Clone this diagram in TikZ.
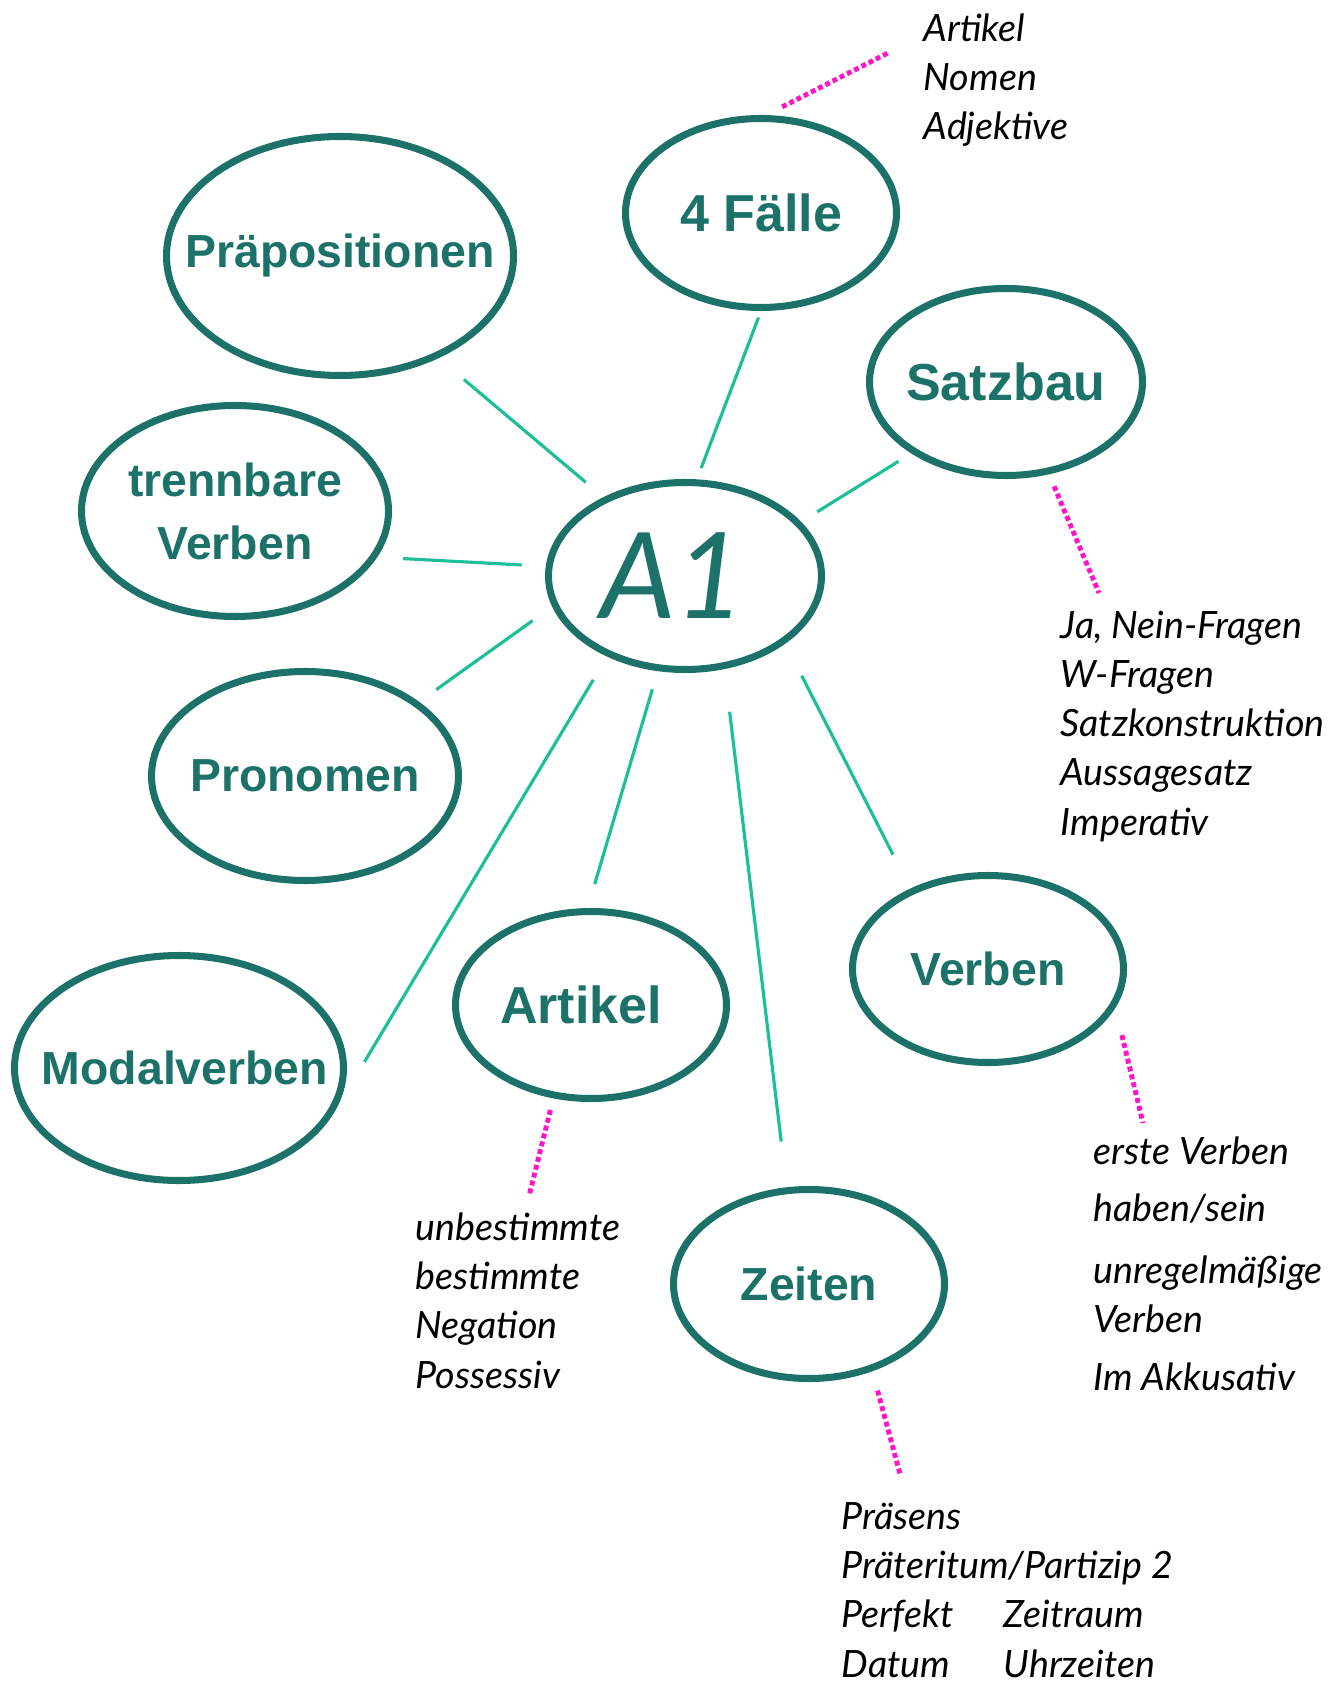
\documentclass[tikz,border=0pt]{standalone}
\usepackage{fontspec}
\setmainfont{Liberation Sans}
\newfontfamily\handfont{Lato}
\usetikzlibrary{shapes.geometric}

\definecolor{deepteal}{HTML}{1C7268}
\definecolor{spokegreen}{HTML}{1DBF9B}
\definecolor{dotpink}{HTML}{FF14C8}

\begin{document}
\begin{tikzpicture}[
  bubble/.style={ellipse, draw=deepteal, line width=2pt, inner sep=0pt},
  topic/.style={font=\bfseries\fontsize{13.2}{17.9}\selectfont, text=deepteal, align=center},
  bigtopic/.style={topic, font=\bfseries\fontsize{14.8}{17.9}\selectfont},
  spoke/.style={draw=spokegreen, line width=0.9pt},
  hint/.style={draw=dotpink, line width=1.4pt, dash pattern=on 1.4pt off 0.9pt},
  note/.style={anchor=base west, align=left, inner sep=0pt,
               font=\handfont\itshape\fontsize{10.7}{14}\selectfont},
]
\useasboundingbox (0,0) rectangle (13.34,-16.81);

\node[bubble, minimum width=2.73cm, minimum height=1.87cm, text=deepteal,
      font=\handfont\itshape\fontsize{34}{34}\selectfont] (a1) at (6.85,-5.76) {\hspace*{-0.25cm}A1};

\node[bubble, minimum width=2.71cm, minimum height=1.89cm, label={[bigtopic]center:4 Fälle}] (faelle) at (7.61,-2.13) {};
\node[bubble, minimum width=3.47cm, minimum height=2.39cm, label={[topic]center:Präpositionen}] (prep) at (3.40,-2.56) {};
\node[bubble, minimum width=2.73cm, minimum height=1.87cm, label={[bigtopic]center:Satzbau}] (satz) at (10.06,-3.82) {};
\node[bubble, minimum width=3.07cm, minimum height=2.11cm, label={[topic]center:{trennbare\\Verben}}] (trenn) at (2.35,-5.11) {};
\node[bubble, minimum width=3.07cm, minimum height=2.09cm, label={[topic]center:Pronomen}] (pron) at (3.05,-7.76) {};
\node[bubble, minimum width=3.29cm, minimum height=2.25cm, label={[topic, xshift=0.06cm]center:Modalverben}] (modal) at (1.79,-10.68) {};
\node[bubble, minimum width=2.71cm, minimum height=1.87cm, label={[bigtopic, xshift=-0.1cm]center:Artikel}] (artikel) at (5.91,-10.05) {};
\node[bubble, minimum width=2.71cm, minimum height=1.87cm, label={[topic]center:Verben}] (verben) at (9.88,-9.69) {};
\node[bubble, minimum width=2.71cm, minimum height=1.89cm, label={[topic]center:Zeiten}] (zeiten) at (8.09,-12.84) {};

% spokes from the centre
\draw[spoke, shorten <=0.23cm, shorten >=0.33cm] (a1.136) -- (prep.-46);
\draw[spoke, shorten <=0.12cm, shorten >=0.07cm] (a1.83) -- (faelle.-90);
\draw[spoke, shorten <=0.19cm, shorten >=0.15cm] (a1.25) -- (satz.217);
\draw[spoke, shorten <=0.24cm, shorten >=0.26cm] (a1.176) -- (trenn.-18);
\draw[spoke, shorten <=0.24cm, shorten >=0.21cm] (a1.193) -- (pron.33);
\draw[spoke, shorten <=0.27cm, shorten >=0.56cm] (a1.226) -- (modal.-15);
\draw[spoke, shorten <=0.19cm, shorten >=0.25cm] (a1.254) -- (artikel.92);
\draw[spoke, shorten <=0.43cm, shorten >=0.46cm] (a1.-67) -- (zeiten.103);
\draw[spoke, shorten <=0.36cm, shorten >=0.38cm] (a1.-34) -- (verben.134);

% dotted hints to the notes
\coordinate (n-faelle) at (8.88,-0.53);
\coordinate (n-satz) at (10.99,-5.93);
\coordinate (n-artikel) at (5.29,-11.96);
\coordinate (n-verben) at (11.43,-11.23);
\coordinate (n-zeiten) at (9.00,-14.74);
\draw[hint, shorten <=0.18cm] (faelle.87) -- (n-faelle);
\draw[hint, shorten <=0.13cm] (satz.-65) -- (n-satz);
\draw[hint, shorten <=0.12cm] (artikel.248) -- (n-artikel);
\draw[hint, shorten <=0.28cm] (verben.-17) -- (n-verben);
\draw[hint, shorten <=0.20cm] (zeiten.-54) -- (n-zeiten);

% notes, anchored at the baseline of their last line
\node[note] (t-faelle) at (9.23,-1.40) {Artikel\\Nomen\\Adjektive};
\node[note] (t-satz) at (10.60,-8.35) {Ja, Nein-Fragen\\W-Fragen\\Satzkonstruktion\\Aussagesatz\\Imperativ};
\node[note] (t-artikel) at (4.15,-13.88) {unbestimmte\\bestimmte\\Negation\\Possessiv};
\node[note] (t-zeiten) at (8.41,-16.77) {Präsens\\Präteritum/Partizip 2\\Perfekt\\Datum};
\node[note] (t-zeiten2) at (10.03,-16.77) {Zeitraum\\Uhrzeiten};
\node[note] (t-verben) at (10.93,-13.90) {erste Verben\\[2.3pt]haben/sein\\[3.7pt]unregelmäßige\\Verben\\[2.3pt]Im Akkusativ};

\end{tikzpicture}
\end{document}
